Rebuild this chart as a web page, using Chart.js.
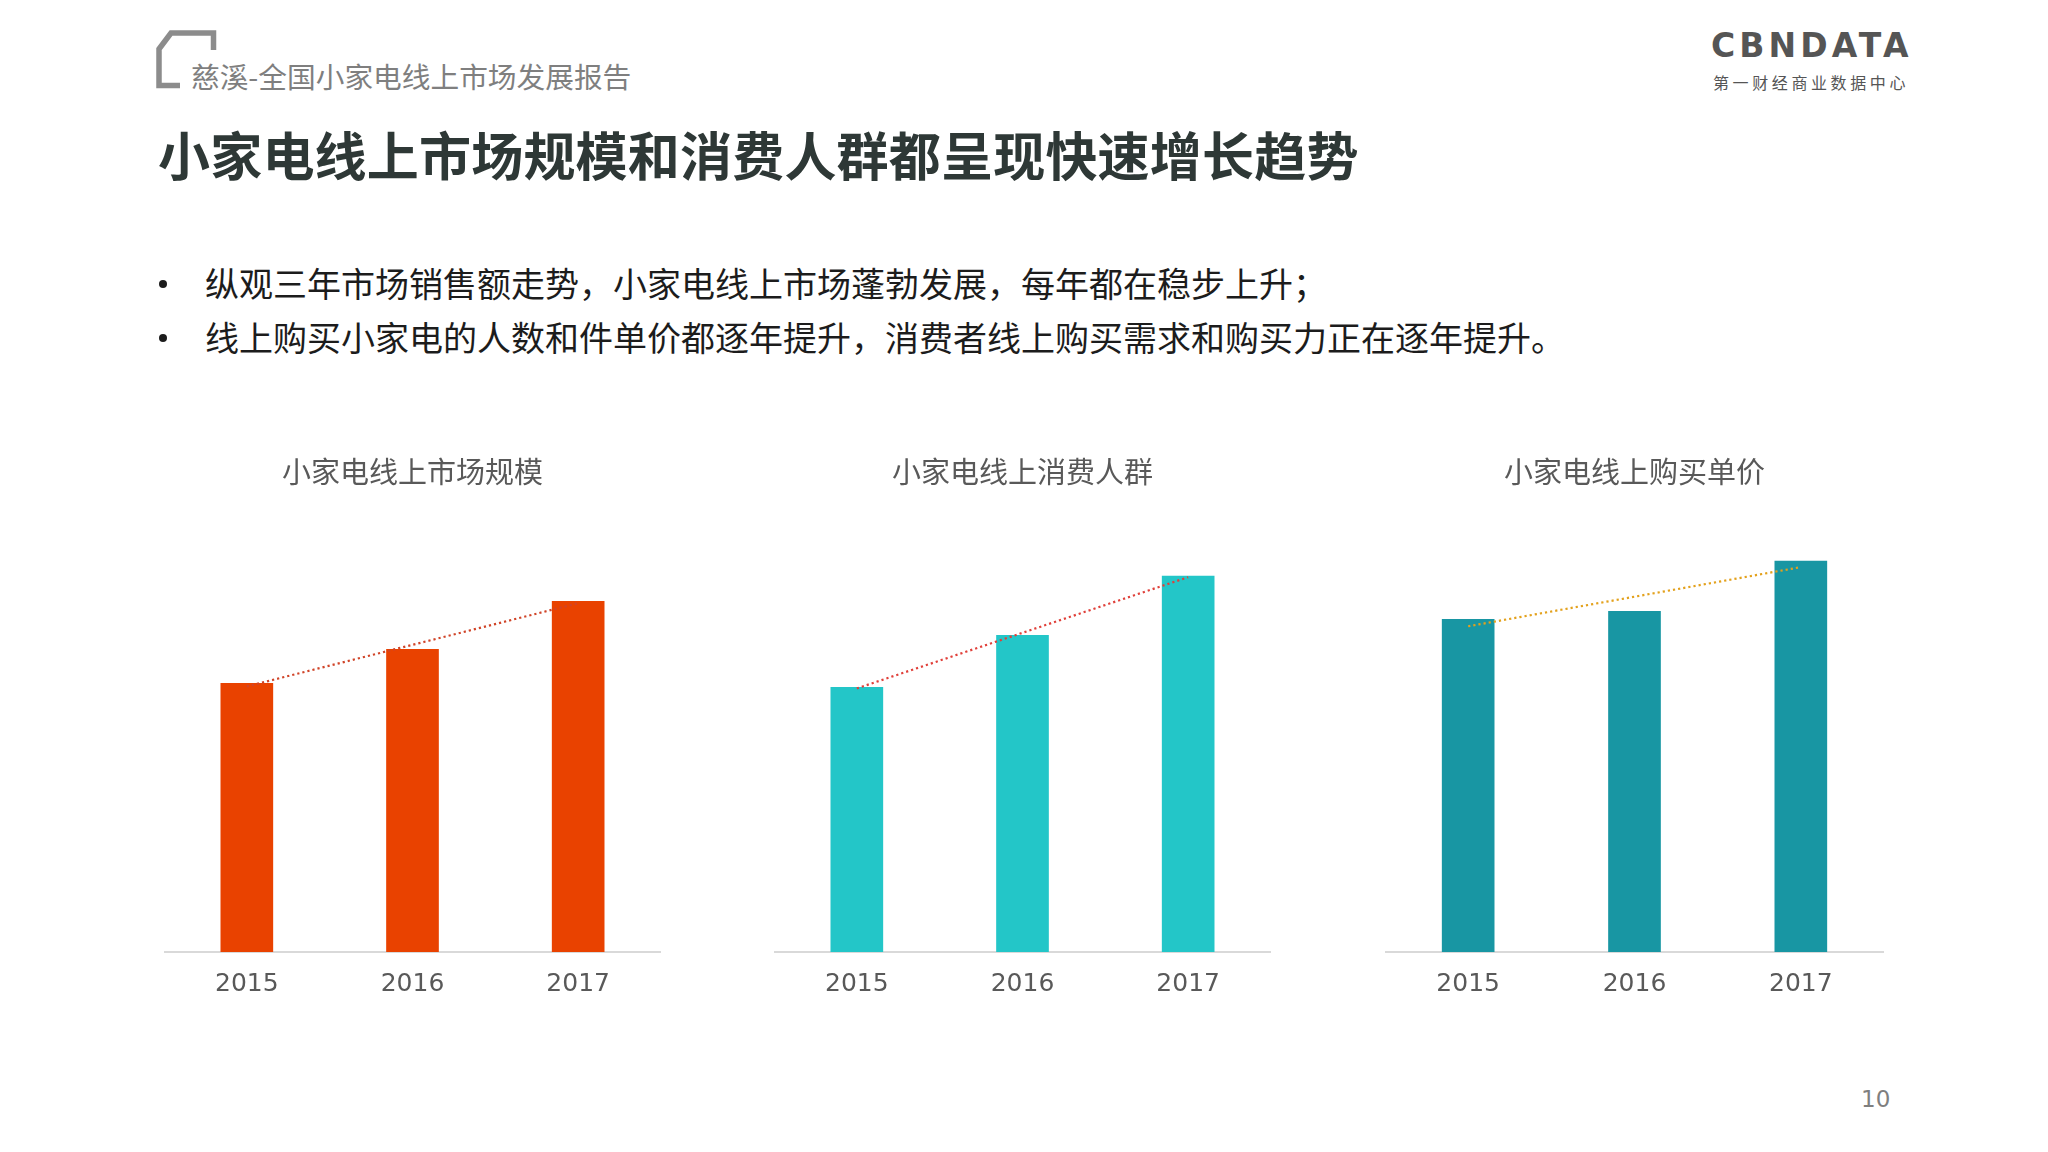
<!DOCTYPE html>
<html lang="zh-CN">
<head>
<meta charset="utf-8">
<title>小家电线上市场规模和消费人群都呈现快速增长趋势</title>
<script src="https://cdn.jsdelivr.net/npm/chart.js@4.4.1/dist/chart.umd.min.js"></script>
<style>
    body {
        margin: 0;
        width: 2048px;
        height: 1152px;
        background: #ffffff;
        position: relative;
        overflow: hidden;
        font-family: "Noto Sans CJK SC", "Noto Sans", sans-serif;
    }
    .abs { position: absolute; white-space: nowrap; }
    #corner { left: 156px; top: 30px; }
    #report-name { left: 191px; top: 56px; font-size: 28.7px; line-height: 40px; color: #7f7f7f; }
    #main-title { left: 158px; top: 123px; font-size: 52px; line-height: 62px; font-weight: 700; color: #2e3836; letter-spacing: 0.2px; }
    .bullet { left: 205px; font-size: 34px; line-height: 44px; color: #1c1c1c; }
    .bullet::before {
        content: '';
        position: absolute;
        left: -46px;
        top: 19px;
        width: 8px;
        height: 8px;
        border-radius: 50%;
        background: #1c1c1c;
    }
    #logo { left: 1711px; top: 26px; font-family: "DejaVu Sans", sans-serif; font-weight: bold; font-size: 33px; line-height: 40px; color: #555555; letter-spacing: 4.1px; }
    #logo-sub { left: 1713px; top: 71px; font-size: 16px; line-height: 22px; color: #555555; letter-spacing: 3.6px; }
    #page-no { left: 1861px; top: 1084px; font-family: "DejaVu Sans", sans-serif; font-size: 23px; line-height: 30px; color: #7f7f7f; }
    canvas { position: absolute; top: 430px; }
</style>
</head>
<body>

<svg id="corner" class="abs" width="62" height="60" viewBox="0 0 62 60">
    <polyline points="24,55.5 3,55.5 3,19 15,3 57.5,3 57.5,20" fill="none" stroke="#8c8c8c" stroke-width="5.5"/>
</svg>
<div id="report-name" class="abs">慈溪-全国小家电线上市场发展报告</div>
<div id="main-title" class="abs">小家电线上市场规模和消费人群都呈现快速增长趋势</div>
<div class="abs bullet" style="top: 261px;">纵观三年市场销售额走势，小家电线上市场蓬勃发展，每年都在稳步上升；</div>
<div class="abs bullet" style="top: 315px;">线上购买小家电的人数和件单价都逐年提升，消费者线上购买需求和购买力正在逐年提升。</div>

<div id="logo" class="abs">CBNDATA</div>
<div id="logo-sub" class="abs">第一财经商业数据中心</div>
<div id="page-no" class="abs">10</div>

<canvas id="marketChart" width="497" height="586" style="left: 164px;"></canvas>
<canvas id="buyerChart" width="497" height="586" style="left: 774px;"></canvas>
<canvas id="priceChart" width="499" height="586" style="left: 1385px;"></canvas>

<script>
// data (relative heights, same scale for all three panels)
const years = ['2015', '2016', '2017'];

const marketSize = [268, 302, 350];
const marketTrend = [265, 348];      // trend line at 2015 and 2017

const buyerCount = [264, 316, 375];
const buyerTrend = [263, 374];

const unitPrice = [332, 340, 390];
const priceTrend = [325, 384];

const yMax = 450;

// build one panel: bars plus a dotted trend line
function createBarChart(canvasId, title, values, trend, barColor, trendColor) {
    const ctx = document.getElementById(canvasId).getContext('2d');
    return new Chart(ctx, {
        type: 'bar',
        data: {
            labels: years,
            datasets: [{
                type: 'line',
                data: [
                    { x: years[0], y: trend[0] },
                    { x: years[years.length - 1], y: trend[1] }
                ],
                borderColor: trendColor,
                borderWidth: 2.2,
                borderDash: [2.2, 3],
                pointRadius: 0,
                tension: 0,
                order: 0
            }, {
                data: values,
                backgroundColor: barColor,
                barThickness: 52,
                order: 1
            }]
        },
        options: {
            responsive: false,
            animation: false,
            layout: { padding: 0 },
            scales: {
                x: {
                    grid: { display: false, drawTicks: false },
                    border: { display: true, color: '#d9d9d9', width: 2 },
                    ticks: {
                        padding: 17,
                        color: '#595959',
                        font: { family: 'DejaVu Sans', size: 25, lineHeight: 1.2 }
                    }
                },
                y: {
                    display: false,
                    min: 0,
                    max: yMax
                }
            },
            plugins: {
                legend: { display: false },
                tooltip: { enabled: false },
                title: {
                    display: true,
                    text: title,
                    color: '#595959',
                    font: { family: 'Noto Sans CJK SC', size: 29, weight: 'normal', lineHeight: 1.2 },
                    padding: { top: 24.5, bottom: 11.7 }
                }
            }
        }
    });
}

createBarChart('marketChart', '小家电线上市场规模', marketSize, marketTrend, '#e94200', '#d04428');
createBarChart('buyerChart', '小家电线上消费人群', buyerCount, buyerTrend, '#23c6c8', '#e0403a');
createBarChart('priceChart', '小家电线上购买单价', unitPrice, priceTrend, '#1896a3', '#e3a11c');
</script>
</body>
</html>
